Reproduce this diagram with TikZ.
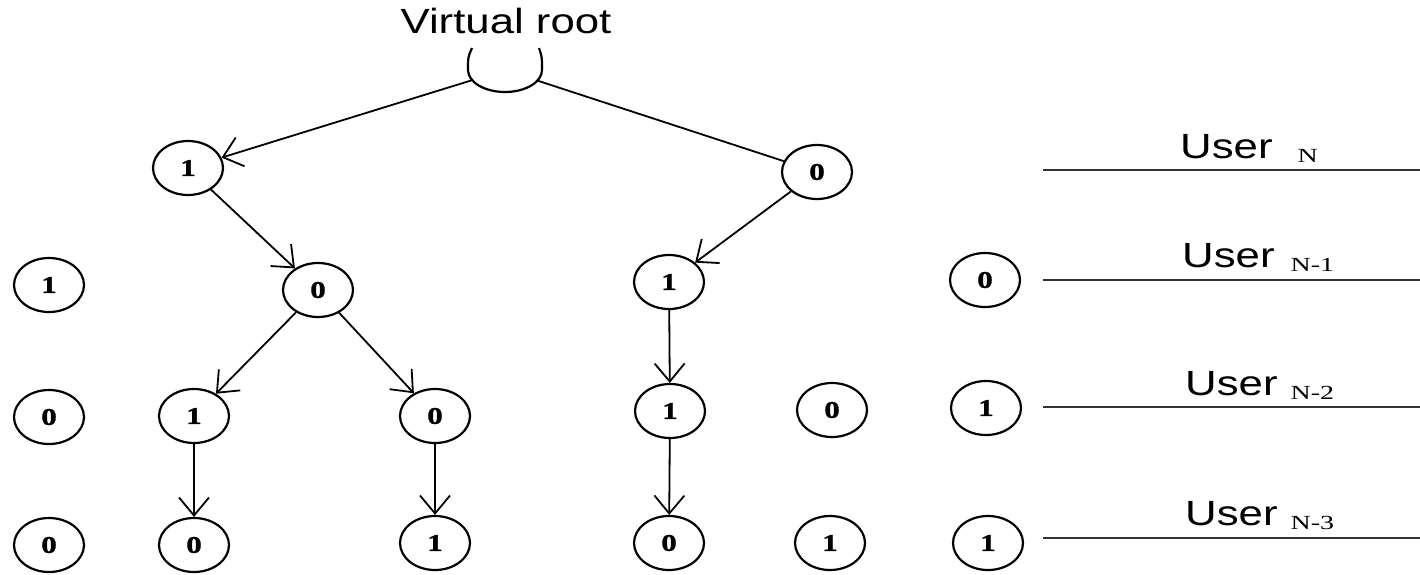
\documentclass[tikz,border=0pt]{standalone}
\usepackage{fontspec}
\usetikzlibrary{shapes.geometric,arrows.meta}

\newfontfamily\labelfont[FakeStretch=1.25]{Liberation Sans}
\newfontfamily\bitfont[FakeStretch=1.3,BoldFeatures={FakeBold=1.2}]{Liberation Serif}
\newfontfamily\subfont[FakeStretch=1.4]{Liberation Serif}
\newcommand{\usersub}[1]{\raisebox{-4pt}{\subfont\fontsize{20}{20}\selectfont #1}}

\tikzstyle{bitfig}=[x=1pt,y=-1pt]
\tikzstyle{bit}=[ellipse,draw,line width=2.2pt,minimum width=70pt,minimum height=54pt,inner sep=0pt,font=\bitfont\bfseries\fontsize{24}{24}\selectfont]
\tikzstyle{link}=[line width=1.8pt,-{Straight Barb[length=18pt,width=30pt,line width=1.8pt]}]
\tikzstyle{plain}=[line width=1.8pt]
\tikzstyle{userline}=[line width=1.6pt,black!80]
\tikzstyle{userlab}=[anchor=base west,inner sep=0pt,font=\labelfont\fontsize{35}{35}\selectfont]

\begin{document}
\begin{tikzpicture}[style=bitfig]
\useasboundingbox (0,0) rectangle (1420,574);

% root with its open top
\node[userlab,anchor=base] (vrlab) at (506,33) {Virtual root};
\node[ellipse,minimum width=74pt,minimum height=44pt,inner sep=0pt] (root) at (505,70) {};
\draw[line width=2.2pt] ([shift={(-33,-22)}]root.center) .. controls ([shift={(-37,-13)}]root.center) .. ([shift={(-37,0)}]root.center)
  arc[start angle=180,end angle=0,x radius=37,y radius=22]
  .. controls ([shift={(37,-13)}]root.center) .. ([shift={(34,-22)}]root.center);

% user N
\node[bit] (a1) at (188,168) {1};
\node[bit] (b0) at (817,172) {0};
% user N-1
\node[bit] (c1) at (49,285) {1};
\node[bit] (d0) at (318,290) {0};
\node[bit] (e1) at (669,282) {1};
\node[bit] (f0) at (985,280) {0};
% user N-2
\node[bit] (g0) at (49,417) {0};
\node[bit] (h1) at (194,416) {1};
\node[bit] (i0) at (435,416) {0};
\node[bit] (j1) at (670,411) {1};
\node[bit] (k0) at (832,410) {0};
\node[bit] (l1) at (986,408) {1};
% user N-3
\node[bit] (m0) at (49,545) {0};
\node[bit] (n0) at (194,545) {0};
\node[bit] (o1) at (435,543) {1};
\node[bit] (p0) at (669,543) {0};
\node[bit] (q1) at (830,543) {1};
\node[bit] (r1) at (988,543) {1};

\draw[link] (root) -- (a1);
\draw[plain] (root) -- (b0);
\draw[link] (b0) -- (e1);
\draw[link] (a1) -- (d0);
\draw[link] (d0) -- (h1);
\draw[link] (d0) -- (i0);
\draw[link] (h1) -- (n0);
\draw[link] (i0) -- (o1);
\draw[link] (e1) -- (j1);
\draw[link] (j1) -- (p0);

% levels on the right
\coordinate (uN0) at (1043,170);   \coordinate (uN1) at (1420,170);
\coordinate (uM0) at (1043,280);   \coordinate (uM1) at (1420,280);
\coordinate (uK0) at (1043,407);   \coordinate (uK1) at (1420,407);
\coordinate (uJ0) at (1043,538);   \coordinate (uJ1) at (1420,538);
\draw[userline] (uN0) -- (uN1);
\draw[userline] (uM0) -- (uM1);
\draw[userline] (uK0) -- (uK1);
\draw[userline] (uJ0) -- (uJ1);

\node[userlab] (labN) at (1180,158) {User\hspace{25pt}\usersub{N}};
\node[userlab] (labM) at (1182,267) {User\hspace{16pt}\usersub{N-1}};
\node[userlab] (labK) at (1185,395) {User\hspace{13pt}\usersub{N-2}};
\node[userlab] (labJ) at (1185,525) {User\hspace{13pt}\usersub{N-3}};
\end{tikzpicture}
\end{document}
